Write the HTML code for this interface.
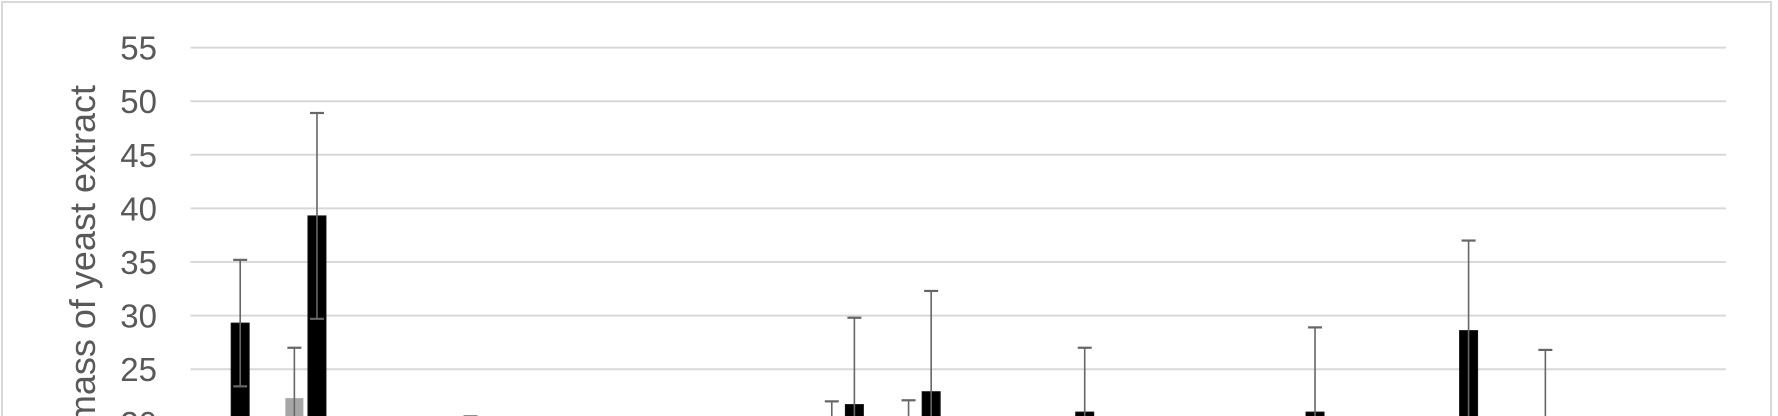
<!DOCTYPE html>
<html><head><meta charset="utf-8"><style>
html,body{margin:0;padding:0;background:#fff;overflow:hidden;width:1778px;height:416px}
svg{display:block;overflow:hidden}
text{font-family:"Liberation Sans",sans-serif}
</style></head><body>
<svg id="chart" width="1778" height="416" viewBox="0 0 1778 416">
<defs><clipPath id="clip"><rect x="0" y="0" width="1778" height="416"/></clipPath></defs>
<g clip-path="url(#clip)">
<rect x="2" y="2" width="1769" height="420" fill="#fff" stroke="#d9d9d9" stroke-width="2"/>
<g id="grid"></g>
<g id="yticks"></g>
<text x="0" y="0" transform="translate(95,85) rotate(-90)" text-anchor="end" font-size="36" fill="#595959">mass of yeast extract</text>
<g id="bars"></g>
</g>
</svg>
<script>
const categories = ["1","2","3","4","5","6","7","8","9","10","11","12","13","14","15","16","17","18","19","20"];
const grayValues = [12,22.3,12,12,12,12,12,12,18,18,12,12,12,12,12,12,12,12,12,12];
const grayErrors = [3,4.7,3,3,3,3,3,3,4,4.1,3,3,3,3,3,3,3,3,3,3];
const blackValues = [29.3,39.3,15,18,15,15,15,15,21.7,22.9,15,21,15,15,21,15,28.6,20.5,15,15];
const blackErrors = [5.9,9.6,3,2.6,3,3,3,3,8.1,9.4,3,6,3,3,7.9,3,8.4,6.3,3,3];
const yTicks = [20,25,30,35,40,45,50,55];

const NS="http://www.w3.org/2000/svg";
const x0=190.5, x1=1726;
const catW=(x1-x0)/categories.length;
function xC(i){return x0+catW*(i+0.5);}
function y(v){return 47.6+(55-v)*10.72;}
function mk(tag,attrs,parent){const e=document.createElementNS(NS,tag);for(const k in attrs)e.setAttribute(k,attrs[k]);parent.appendChild(e);return e;}

const grid=document.getElementById('grid'), yt=document.getElementById('yticks'), bars=document.getElementById('bars');
yTicks.forEach(t=>{
  const l=mk('line',{x1:x0,x2:x1,y1:y(t),y2:y(t),stroke:'#d9d9d9','stroke-width':2},grid);
  
  
  const tx=mk('text',{x:157,y:y(t)+12,'text-anchor':'end','font-size':33,fill:'#595959'},yt);
  tx.textContent=t;
  
  
});
const bw=18;
function drawBar(cx,v,err,fill,name){
  const top=y(v);
  const r=mk('rect',{x:cx-bw/2,y:top,width:bw,height:Math.max(0,418-top),fill:fill,stroke:'#111','stroke-width':fill==='#000'?1:0},bars);
  
  
  const eg=mk('g',{stroke:'#666','stroke-width':1.6},bars);
  
  
  mk('line',{x1:cx,x2:cx,y1:y(v+err),y2:y(v-err)},eg);
  mk('line',{x1:cx-7,x2:cx+7,y1:y(v+err),y2:y(v+err),'stroke-width':2.2},eg);
  mk('line',{x1:cx-7,x2:cx+7,y1:y(v-err),y2:y(v-err),'stroke-width':2.2},eg);
}
categories.forEach((c,i)=>{
  drawBar(xC(i)-11.3,grayValues[i],grayErrors[i],'#a6a6a6','bar-gray-'+c);
  drawBar(xC(i)+11.3,blackValues[i],blackErrors[i],'#000','bar-black-'+c);
});
</script>
</body></html>
